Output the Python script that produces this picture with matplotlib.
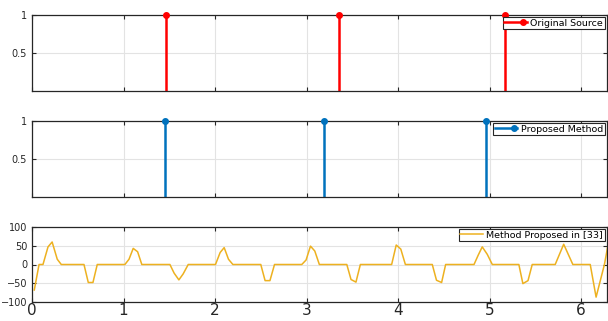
import numpy as np
import matplotlib
matplotlib.use("Agg")
import matplotlib.pyplot as plt
from matplotlib.lines import Line2D
from matplotlib.legend_handler import HandlerLine2DCompound

# stem positions
orig_pos = [1.463, 3.36, 5.17]
orig_amp = [1, 1, 1]
prop_pos = [1.45, 3.19, 4.96]
prop_amp = [1, 1, 1]

# vertices of the method-[33] curve
ref_x = [0.025, 0.077, 0.12, 0.175, 0.22, 0.276, 0.32, 0.568, 0.615, 0.666, 0.713,
         1.015, 1.06, 1.106, 1.154, 1.2, 1.507, 1.553, 1.605, 1.652, 1.707,
         2.005, 2.056, 2.10, 2.147, 2.195, 2.5, 2.547, 2.60, 2.65,
         2.948, 2.995, 3.043, 3.09, 3.14, 3.44, 3.486, 3.54, 3.588,
         3.93, 3.98, 4.03, 4.08, 4.374, 4.42, 4.476, 4.52,
         4.83, 4.876, 4.92, 4.975, 5.03, 5.32, 5.364, 5.42, 5.466,
         5.717, 5.81, 5.91, 6.10, 6.164, 6.255, 6.30]
ref_y = [-68, 0, 0, 47, 60, 14, 0, 0, -48, -48, 0,
         0, 14, 43, 34, 0, 0, -23, -41, -25, 0,
         0, 32, 45, 14, 0, 0, -43, -43, 0,
         0, 12, 49, 36, 0, 0, -40, -47, 0,
         0, 52, 41, 0, 0, -42, -48, 0,
         0, 25, 47, 27, 0, 0, -51, -43, 0,
         0, 54, 0, 0, -87, 0, 60]

xt = [0, 1, 2, 3, 4, 5, 6]


class StemHandler(HandlerLine2DCompound):
    # marker at the right end of the legend line, like MATLAB's stem legend
    def get_xdata(self, legend, xdescent, ydescent, width, height, fontsize):
        xdata = np.array([-xdescent, -xdescent + width])
        return xdata, np.array([-xdescent + 0.85 * width])


fig = plt.figure(figsize=(6.08, 3.21), dpi=100)
W, H = 608, 321
def box(top, bot, left=32, right=607):
    return [left / W, 1 - bot / H, (right - left) / W, (bot - top) / H]

ax1 = fig.add_axes(box(15, 91))
ax2 = fig.add_axes(box(121, 197))
ax3 = fig.add_axes(box(227, 302))

def style(ax):
    ax.set_xlim(0, 2 * np.pi)
    ax.set_xticks(xt)
    ax.grid(True, color='#e3e3e3', linewidth=0.8)
    ax.set_axisbelow(True)
    ax.tick_params(direction='in', top=True, right=True, labelsize=7,
                   length=3, colors='#262626', width=0.8)
    for s in ax.spines.values():
        s.set_color('#262626')
        s.set_linewidth(0.9)

def legend(ax, handle, lab, hmap=None):
    leg = ax.legend([handle], [lab], loc='upper right', fontsize=6.8, fancybox=False,
                    framealpha=1, edgecolor='#262626', borderpad=0.15, handlelength=2.4,
                    handletextpad=0.4, borderaxespad=0.25, handler_map=hmap)
    leg.get_frame().set_linewidth(0.8)

def stems(ax, pos, amp, col, lab):
    ml, sl, bl = ax.stem(pos, amp, linefmt='-', markerfmt='o', basefmt=' ')
    plt.setp(sl, color=col, linewidth=1.8)
    plt.setp(ml, color=col, markersize=4, clip_on=False, zorder=5)
    ax.set_ylim(0, 1)
    ax.set_yticks([0.5, 1])
    ax.set_yticklabels(['0.5', '1'])
    ax.set_xticklabels([])
    h = Line2D([0], [0], color=col, linewidth=1.8, marker='o', markersize=4)
    legend(ax, h, lab, {h: StemHandler(numpoints=1)})

style(ax1)
stems(ax1, orig_pos, orig_amp, '#ff0000', 'Original Source')
style(ax2)
stems(ax2, prop_pos, prop_amp, '#0072bd', 'Proposed Method')
style(ax3)
line, = ax3.plot(ref_x, ref_y, color='#edb120', linewidth=1.1)
ax3.set_ylim(-100, 100)
ax3.set_yticks([-100, -50, 0, 50, 100])
ax3.tick_params(axis='x', labelsize=11, pad=1)
legend(ax3, line, 'Method Proposed in [33]')

fig.savefig('out.png', dpi=100)
